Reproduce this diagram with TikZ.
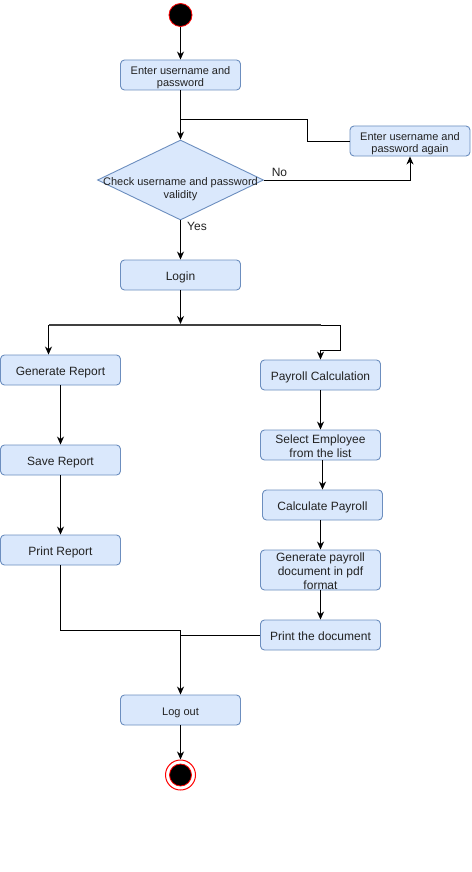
\documentclass[tikz,border=0pt]{standalone}
\usepackage{fontspec}
\setmainfont{Liberation Sans}
\usetikzlibrary{arrows.meta,shapes.geometric}
\definecolor{boxfill}{HTML}{DAE8FC}
\definecolor{boxdraw}{HTML}{6C8EBF}
\definecolor{txt}{HTML}{222222}
\newcommand{\mltext}[1]{\raisebox{0pt}[\height][\dimexpr\depth-6pt\relax]{\begin{tabular}{@{}c@{}}#1\end{tabular}}}
\begin{document}
\begin{tikzpicture}[x=1pt,y=-1pt,
  txtbox/.style={execute at begin node={\rule{0pt}{1.2em}},
    execute at end node={\rule[-0.23em]{0pt}{0pt}}},
  actbase/.style={draw=boxdraw, fill=boxfill, rounded corners=4pt, minimum width=120pt,
    minimum height=30pt, inner sep=0pt, text=txt, line width=0.9pt,
    font=\fontsize{12}{13.8}\selectfont},
  act/.style={actbase, txtbox},
  smalltext/.style={font=\fontsize{11}{12.6}\selectfont},
  conn/.style={line width=1pt, black},
  arr/.style={conn, -{Stealth[length=8pt,width=7pt,inset=2.5pt]}},
  lbl/.style={text=txt, font=\fontsize{12}{14}\selectfont, inner sep=0pt},
  forkbar/.style={line width=2.5pt, black!75}
]
\fill[white] (0,0) rectangle (471,872);
\useasboundingbox (0,0) rectangle (471,872);

% nodes
\node[circle, fill=black, draw=red, line width=0.8pt, minimum size=23pt, inner sep=0pt] (start) at (180.5,15) {};
\node[actbase, smalltext] (b1) at (180.5,75) {\mltext{Enter username and\\password}};
\node[diamond, draw=boxdraw, fill=boxfill, line width=0.9pt, minimum width=166pt, minimum height=80pt, inner sep=0pt] (dia) at (180.5,180) {};
\node[smalltext, text=txt, inner sep=0pt] (diatext) at (180.5,186.5) {\mltext{Check username and password\\validity}};
\node[actbase, smalltext] (again) at (410,141) {\mltext{Enter username and\\password again}};
\node[act] (login) at (180.5,275) {Login};
\node[act] (gen) at (60.5,370) {Generate Report};
\node[act] (save) at (60.5,460) {Save Report};
\node[act] (printr) at (60.5,550) {Print Report};
\node[act] (pay) at (320.5,375) {Payroll Calculation};
\node[actbase] (sel) at (320.5,445) {\mltext{Select Employee\\from the list}};
\node[act] (calc) at (322.5,505) {Calculate Payroll};
\node[actbase, minimum height=40pt] (gendoc) at (320.5,570) {\mltext{Generate payroll\\document in pdf\\format}};
\node[act] (printd) at (320.5,635) {Print the document};
\node[act, smalltext] (logout) at (180.5,710) {Log out};
\node[circle, fill=white, draw=red, line width=1pt, minimum size=30pt, inner sep=0pt] (endo) at (180.5,775) {};
\node[circle, fill=black, draw=red, line width=0.8pt, minimum size=22pt, inner sep=0pt] (endi) at (180.5,775) {};

\node[lbl] (nolbl) at (279.5,172) {No};
\node[lbl] (yeslbl) at (197,226) {Yes};

% coordinates
\coordinate (loopj) at (180.5,120);
\coordinate (loopc) at (307,120);
\coordinate (forkc) at (180.5,324);
\coordinate (forkl) at (49,325);
\coordinate (forkr) at (320.5,325);
\coordinate (gl) at (48.5,325);
\coordinate (rk1) at (340,325);
\coordinate (rk2) at (340,350);
\coordinate (rk3) at (320.5,350);
\coordinate (joinl) at (180.5,630);
\coordinate (joinr) at (180.5,635);

% connectors
\draw[arr] (start.south) -- (b1.north);
\draw[arr] (b1.south) -- (dia.north);
\draw[conn] (again.west) -| (loopc) -- (loopj);
\draw[arr] (dia.east) -| (again.south);
\draw[arr] (dia.south) -- (login.north);
\draw[arr] (login.south) -- (forkc);
\draw[forkbar] (forkl) -- (forkr);
\draw[arr] (gl) -- (gl |- gen.north);
\draw[conn] (forkr) -- (rk1);
\draw[arr] (rk1) -- (rk2) -- (rk3) -- (pay.north);
\draw[arr] (gen.south) -- (save.north);
\draw[arr] (save.south) -- (printr.north);
\draw[arr] (pay.south) -- (sel.north);
\draw[arr] (sel.south -| calc.north) -- (calc.north);
\draw[arr] (calc.south -| gendoc.north) -- (gendoc.north);
\draw[arr] (gendoc.south) -- (printd.north);
\draw[conn] (printr.south) |- (joinl);
\draw[conn] (printd.west) -- (joinr);
\draw[arr] (joinl) -- (logout.north);
\draw[arr] (logout.south) -- (endo.north);
\end{tikzpicture}
\end{document}
